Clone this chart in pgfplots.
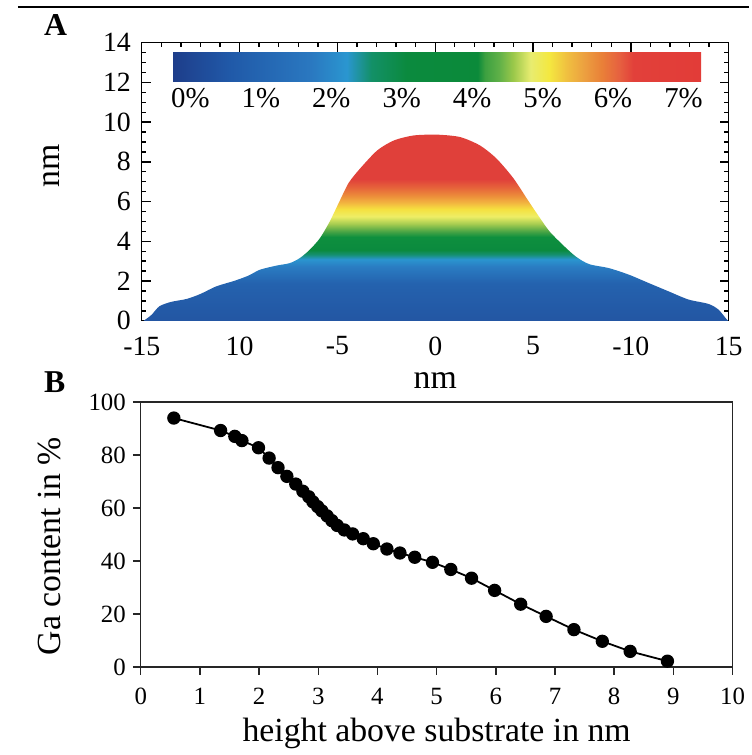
\documentclass[border=0pt]{standalone}
\usepackage{fontspec}
\setmainfont{Liberation Serif}
\usepackage{pgfplots}
\pgfplotsset{compat=1.18}

% colours read off the shaded dome and the colour bar
\definecolor{gA}{HTML}{2356A3}
\definecolor{gB}{HTML}{2462AE}
\definecolor{gC}{HTML}{2A7CC2}
\definecolor{gD}{HTML}{2A95CF}
\definecolor{gE}{HTML}{159070}
\definecolor{gF}{HTML}{0B8A3E}
\definecolor{gG}{HTML}{0E8F3E}
\definecolor{gH}{HTML}{4AA545}
\definecolor{gI}{HTML}{A5CC50}
\definecolor{gJ}{HTML}{EEEE66}
\definecolor{gK}{HTML}{F5E040}
\definecolor{gL}{HTML}{F2B540}
\definecolor{gM}{HTML}{EC8C3A}
\definecolor{gN}{HTML}{E6633A}
\definecolor{gO}{HTML}{E0403A}

% 25bp = 0 nm, 75bp = top of the dome (9.37 nm)
\pgfdeclareverticalshading{gashade}{100bp}{%
  color(0bp)=(gA); color(25bp)=(gA); color(35bp)=(gB); color(39.5bp)=(gC);
  color(41.5bp)=(gD); color(42.8bp)=(gE); color(44bp)=(gF); color(47.5bp)=(gG);
  color(49bp)=(gH); color(51bp)=(gI); color(53bp)=(gJ); color(55bp)=(gK);
  color(56.7bp)=(gL); color(58.6bp)=(gM); color(60.8bp)=(gN); color(63bp)=(gO);
  color(100bp)=(gO)}

\pgfplotsset{
  colormap={ga}{
    rgb255(0cm)=(30,61,138) rgb255(0.8cm)=(32,89,168) rgb255(1.96cm)=(42,120,192)
    rgb255(2.47cm)=(42,150,208) rgb255(2.82cm)=(19,144,103) rgb255(3.32cm)=(11,138,62)
    rgb255(4.33cm)=(11,138,58) rgb255(4.43cm)=(60,160,64) rgb255(4.63cm)=(95,176,72)
    rgb255(4.83cm)=(154,200,74) rgb255(5.08cm)=(232,236,112) rgb255(5.34cm)=(244,232,64)
    rgb255(5.59cm)=(240,192,64) rgb255(5.84cm)=(236,160,64) rgb255(6.09cm)=(233,128,56)
    rgb255(6.34cm)=(230,96,64) rgb255(6.54cm)=(226,64,58) rgb255(7.5cm)=(226,60,56)
  },
  /pgf/number format/assume math mode=true,
}

\pgfplotstableread{
x y
-14.9 0
-14.5 0.3
-14.1 0.73
-13.5 0.95
-12.7 1.1
-12.0 1.35
-11.2 1.73
-10.3 2.0
-9.55 2.27
-8.96 2.57
-8.1 2.78
-7.44 2.9
-6.93 3.15
-6.42 3.57
-5.9 4.15
-5.4 4.98
-4.9 6.0
-4.42 6.95
-3.81 7.7
-2.96 8.58
-2.11 9.08
-1.1 9.33
0.1 9.37
1.27 9.25
2.28 8.83
3.13 8.17
4.0 7.17
4.75 6.05
5.3 5.25
5.84 4.5
6.52 3.82
7.19 3.23
7.87 2.85
8.88 2.65
9.9 2.32
10.91 1.9
11.93 1.48
12.94 1.07
13.96 0.85
14.47 0.57
14.9 0.07
15.0 0
}\profile

\pgfplotstableread{
h ga
0.56 93.9
1.35 89.2
1.59 87.0
1.71 85.4
1.99 82.7
2.17 78.8
2.32 75.2
2.47 71.9
2.62 69.0
2.74 66.3
2.84 64.2
2.91 62.3
2.99 60.5
3.06 58.9
3.15 57.0
3.23 55.2
3.32 53.4
3.44 51.7
3.58 50.2
3.76 48.4
3.93 46.5
4.16 44.5
4.38 43.0
4.63 41.4
4.93 39.5
5.24 36.8
5.59 33.5
5.98 28.9
6.42 23.7
6.85 19.1
7.32 14.1
7.80 9.7
8.27 5.9
8.90 2.2
}\gadata

\begin{document}
\begin{tikzpicture}
\draw[line width=1pt] (-62.4pt,158pt) -- (305.6pt,158pt);
\node[font=\fontsize{16}{18}\selectfont\bfseries] at (-43.4pt,148.7pt) {A};
\node[font=\fontsize{16}{18}\selectfont\bfseries] at (-43.9pt,-31pt) {B};

% panel A
\begin{axis}[
  at={(0pt,0pt)}, anchor=south west,
  scale only axis, width=295.5pt, height=140pt,
  xmin=-15, xmax=15, ymin=0, ymax=14,
  xtick={-15,-10,-5,0,5,10,15},
  xticklabels={-15,10,-5,0,5,-10,15},
  ytick={0,2,...,14},
  minor x tick num=4, minor y tick num=3,
  tick align=inside,
  major tick length=4.5pt, minor tick length=2.2pt,
  axis line style={line width=0.7pt},
  tick style={black, line width=0.7pt},
  tick label style={font=\fontsize{14}{16}\selectfont},
  xticklabel shift=4.5pt, yticklabel shift=2pt,
  xlabel={nm}, ylabel={nm},
  label style={font=\fontsize{17}{19}\selectfont},
  xlabel style={at={(axis description cs:0.5,-0.214)}, anchor=center},
  ylabel style={at={(axis description cs:-0.154,0.557)}, anchor=center},
  colormap name=ga,
  point meta min=-0.25, point meta max=7.25,
  colorbar horizontal,
  colorbar style={
    at={(parent axis.north west)}, anchor=north west,
    xshift=15.6pt, yshift=4.2pt,
    scale only axis, width=266pt, height=15pt,
    xtick={0,1,...,7},
    xticklabels={0\%,1\%,2\%,3\%,4\%,5\%,6\%,7\%},
    xticklabel pos=lower,
    axis line style={draw=none},
    xtick style={draw=none},
    tick label style={font=\fontsize{14.5}{16}\selectfont},
  },
]
\addplot[draw=none, shading=gashade, smooth, tension=0.45] table[x=x, y=y] {\profile} \closedcycle;
\end{axis}

% panel B
\begin{axis}[
  at={(-0.55pt,-174.35pt)}, anchor=south west,
  scale only axis, width=298pt, height=133.5pt,
  xmin=0, xmax=10, ymin=0, ymax=100,
  xtick={0,1,...,10}, ytick={0,20,...,100},
  xtick pos=bottom, ytick pos=left,
  tick align=outside, major tick length=4pt,
  axis line style={line width=0.7pt, black!85},
  tick style={black!85, line width=0.7pt},
  tick label style={font=\fontsize{12.5}{14}\selectfont},
  xticklabel shift=3pt,
  xlabel={height above substrate in nm},
  ylabel={Ga content in \%},
  label style={font=\fontsize{17}{19}\selectfont},
  xlabel style={at={(axis description cs:0.5,-0.249)}, anchor=center},
  ylabel style={at={(axis description cs:-0.154,0.456)}, anchor=center},
]
\addplot[black, line width=0.9pt, mark=*, mark size=2.9pt,
  mark options={fill=black, draw=black}] table[x=h, y=ga] {\gadata};
\end{axis}
\useasboundingbox (-71.4pt,-216pt) rectangle (305.6pt,161.5pt);
\end{tikzpicture}
\end{document}
